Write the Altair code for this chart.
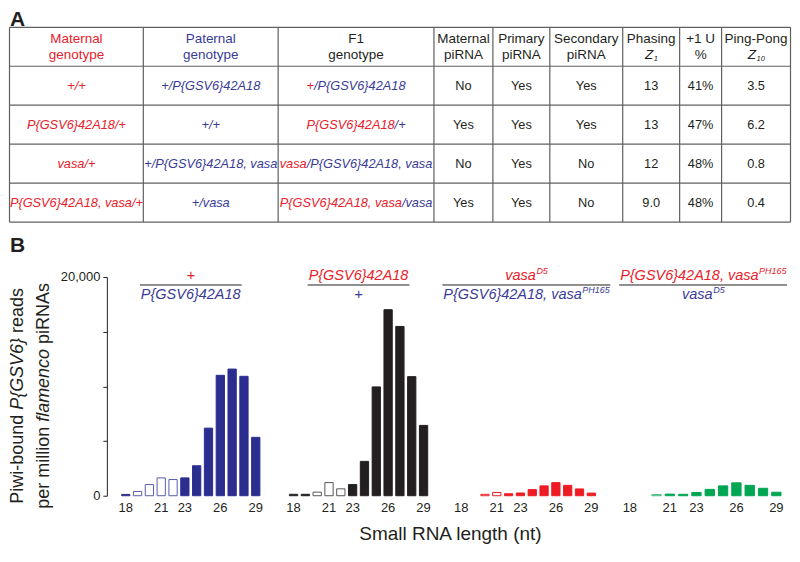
import altair as alt
import pandas as pd

# ---------------- data ----------------
lengths = list(range(18, 30))
x_tick_labels = [18, 21, 23, 26, 29]
y_ticks = [0, 5000, 10000, 15000, 20000]

reads_blue = [120, 390, 1020, 1630, 1480, 1630, 2740, 6180, 11010, 11580, 10920, 5340]
reads_black = [130, 130, 330, 1200, 630, 1020, 3140, 9950, 17010, 15480, 10890, 6430]
reads_red = [0, 0, 130, 300, 180, 250, 560, 900, 1200, 950, 620, 240]
reads_green = [0, 0, 100, 150, 130, 300, 580, 900, 1180, 950, 680, 320]

open_blue = [19, 20, 21, 22]
open_black = [20, 21, 22]
open_red = [20, 21]
open_green = [20]

table_header_top = ["Maternal", "Paternal", "F1", "Maternal", "Primary", "Secondary", "Phasing", "+1 U", "Ping-Pong"]
table_header_bottom = ["genotype", "genotype", "genotype", "piRNA", "piRNA", "piRNA", "Z", "%", "Z"]
header_subscripts = {6: "1", 8: "10"}

maternal_genotype = ["+/+", "P{GSV6}42A18/+", "vasa/+", "P{GSV6}42A18, vasa/+"]
paternal_genotype = ["+/P{GSV6}42A18", "+/+", "+/P{GSV6}42A18, vasa", "+/vasa"]
f1_maternal_part = ["+", "P{GSV6}42A18", "vasa", "P{GSV6}42A18, vasa"]
f1_paternal_part = ["/P{GSV6}42A18", "/+", "/P{GSV6}42A18, vasa", "/vasa"]
maternal_pirna = ["No", "Yes", "No", "Yes"]
primary_pirna = ["Yes", "Yes", "Yes", "Yes"]
secondary_pirna = ["Yes", "Yes", "No", "No"]
phasing_z1 = ["13", "13", "12", "9.0"]
plus1_u = ["41%", "47%", "48%", "48%"]
pingpong_z10 = ["3.5", "6.2", "0.8", "0.4"]

panel_maternal = [("+", ""), ("P{GSV6}42A18", ""), ("vasa", "D5"), ("P{GSV6}42A18, vasa", "PH165")]
panel_paternal = [("P{GSV6}42A18", ""), ("+", ""), ("P{GSV6}42A18, vasa", "PH165"), ("vasa", "D5")]

y_title_lines = [
    [("Piwi-bound ", False), ("P{GSV6}", True), (" reads", False)],
    [("per million ", False), ("flamenco", True), (" piRNAs", False)],
]
x_title = "Small RNA length (nt)"

# ---------------- style / layout ----------------
FONT = "Liberation Sans"
NARROW = "Liberation Sans Narrow, Liberation Sans"
RED = "#e8212b"
BLUE = "#393b97"
DARK = "#231f20"
GRID = "#5f6062"

# Arial / Liberation Sans advance widths (per 1000 em)
AW = {' ': 278, '+': 584, '/': 278, '{': 334, '}': 334, ',': 278, '-': 333, '(': 333, ')': 333,
      '%': 889, '.': 278}
for c in "0123456789":
    AW[c] = 556
AW.update(dict(zip("abcdefghijklmnopqrstuvwxyz",
                   [556, 556, 500, 556, 556, 278, 556, 556, 222, 222, 500, 222, 833, 556, 556, 556, 556,
                    333, 500, 278, 556, 500, 722, 500, 500, 500])))
AW.update(dict(zip("ABCDEFGHIJKLMNOPQRSTUVWXYZ",
                   [667, 667, 722, 722, 667, 611, 778, 722, 278, 500, 667, 556, 833, 722, 778, 667, 778,
                    722, 667, 611, 722, 667, 944, 667, 667, 611])))


def tw(s, size):
    return sum(AW.get(c, 556) for c in s) * size / 1000.0


# ---------- panel A: table ----------
FULL_W = 783          # whole figure width in px
LEFT_EXT = 111        # space left of the first bar panel (y-axis + title)
TOP_W = FULL_W - LEFT_EXT
TOP_H = 246
col_w = [134, 135, 156, 59, 57, 73, 57, 42, 69]
col_x = [0.5]
for w in col_w:
    col_x.append(col_x[-1] + w)
TABLE_TOP = 19
ROW_H = 39
row_lines = [TABLE_TOP + ROW_H * i for i in range(6)]
HDR_SIZE = 13.5
DATA_SIZE = 12.8
SUB_SIZE = 7.5

items = []


def add(x, y, text, color=DARK, style="normal", align="center", size=DATA_SIZE, weight="normal",
        baseline="middle"):
    items.append(dict(x=float(x), y=float(y), text=text, color=color, style=style, align=align,
                      size=float(size), weight=weight, baseline=baseline))


def center(i):
    return (col_x[i] + col_x[i + 1]) / 2


add(1, 18, "A", size=21, weight="bold", align="left", baseline="alphabetic")
add(1, 244, "B", size=21, weight="bold", align="left", baseline="alphabetic")

hdr_colors = [RED, BLUE, DARK] + [DARK] * 6
hy1 = TABLE_TOP + 11.5
hy2 = TABLE_TOP + 27.5
for i in range(9):
    cx = center(i)
    add(cx, hy1, table_header_top[i], hdr_colors[i], size=HDR_SIZE)
    if i in header_subscripts:
        sub = header_subscripts[i]
        zw = tw("Z", HDR_SIZE)
        sw = tw(sub, SUB_SIZE)
        start = cx - (zw + sw) / 2
        add(start, hy2, table_header_bottom[i], style="italic", align="left", size=HDR_SIZE)
        add(start + zw + 0.5, hy2 + 4, sub, style="italic", align="left", size=SUB_SIZE)
    else:
        add(cx, hy2, table_header_bottom[i], hdr_colors[i], size=HDR_SIZE)

value_cols = [maternal_pirna, primary_pirna, secondary_pirna, phasing_z1, plus1_u, pingpong_z10]
for r in range(4):
    cy = row_lines[r + 1] + ROW_H / 2
    add(center(0), cy, maternal_genotype[r], RED, "italic")
    add(center(1), cy, paternal_genotype[r], BLUE, "italic")
    a, b = f1_maternal_part[r], f1_paternal_part[r]
    wa, wb = tw(a, DATA_SIZE), tw(b, DATA_SIZE)
    split = center(2) - (wa + wb) / 2 + wa
    add(split, cy, a, RED, "italic", "right")
    add(split, cy, b, BLUE, "italic", "left")
    for j, col in enumerate(value_cols):
        add(center(3 + j), cy, col[r])

rules = []
for yv in row_lines:
    rules.append(dict(x=col_x[0], x2=col_x[-1], y=yv, y2=yv))
for xv in col_x:
    rules.append(dict(x=xv, x2=xv, y=row_lines[0], y2=row_lines[-1]))

SX = alt.Scale(domain=[LEFT_EXT, FULL_W], nice=False, zero=False)
SY = alt.Scale(domain=[0, TOP_H], nice=False, zero=False, reverse=True)

rule_layer = alt.Chart(pd.DataFrame(rules)).mark_rule(color=GRID, strokeWidth=1.2).encode(
    x=alt.X("x:Q", scale=SX, axis=None), x2="x2:Q",
    y=alt.Y("y:Q", scale=SY, axis=None), y2="y2:Q")

text_df = pd.DataFrame(items)
text_layers = []
for key, g in text_df.groupby(["style", "align", "size", "weight", "baseline"]):
    style, align, size, weight, baseline = key
    text_layers.append(
        alt.Chart(g.reset_index(drop=True)).mark_text(
            font=FONT, fontStyle=style, align=align, fontSize=float(size), fontWeight=weight,
            baseline=baseline).encode(
            x=alt.X("x:Q", scale=SX, axis=None),
            y=alt.Y("y:Q", scale=SY, axis=None),
            text="text:N",
            color=alt.Color("color:N", scale=None)))

top_chart = alt.layer(rule_layer, *text_layers).properties(width=TOP_W, height=TOP_H)

# ---------- panel B: bars ----------
PANEL_H = 219
Y_MAX = 20000
HS = 14.5
SS = 9


def text_at(x, y, text, color, size, style="normal", align="left", baseline="alphabetic", angle=0):
    kw = dict(font=FONT, fontSize=size, fontStyle=style, align=align, baseline=baseline, color=color)
    if angle:
        kw["angle"] = angle
    return alt.Chart(pd.DataFrame({"t": [text]})).mark_text(**kw).encode(
        x=alt.value(x), y=alt.value(y), text="t:N")


def genotype_label(width, parts, color, y):
    main, sup = parts
    wm = tw(main, HS)
    ws = tw(sup, SS) if sup else 0
    start = width / 2 - (wm + ws) / 2
    layers = [text_at(start, y, main, color, HS, "italic")]
    if sup:
        layers.append(text_at(start + wm + 0.5, y - 6, sup, color, SS, "italic"))
    return layers, wm + ws


def panel(values, open_list, color, open_stroke, width, maternal, paternal, first=False, extra=None):
    df = pd.DataFrame({"length": lengths, "reads": values})
    df = df[df["reads"] > 0].reset_index(drop=True)
    df["open"] = df["length"].isin(open_list)
    if first:
        yaxis = alt.Axis(values=y_ticks,
                         labelExpr="datum.value == 0 || datum.value == 20000 ? format(datum.value, ',') : ''",
                         tickSize=4, tickColor=DARK, domainColor=DARK, labelFont=FONT,
                         labelFontSize=13, labelColor=DARK, labelPadding=3, offset=13,
                         title=None, grid=False)
    else:
        yaxis = None
    bars = alt.Chart(df).mark_bar(strokeWidth=1).encode(
        x=alt.X("length:O", scale=alt.Scale(domain=lengths, paddingInner=0.3, paddingOuter=0.15),
                axis=alt.Axis(values=x_tick_labels, ticks=False, domain=False, labelAngle=0,
                              labelFont=NARROW, labelFontSize=13, labelColor=DARK,
                              labelPadding=6, title=None)),
        y=alt.Y("reads:Q", scale=alt.Scale(domain=[0, Y_MAX], nice=False), axis=yaxis),
        fill=alt.condition("datum.open", alt.value("white"), alt.value(color)),
        stroke=alt.condition("datum.open", alt.value(open_stroke), alt.value(color)),
    )
    top_layers, w1 = genotype_label(width, maternal, RED, 3)
    bot_layers, w2 = genotype_label(width, paternal, BLUE, 22)
    lw = max(w1, w2) + 2
    line = alt.Chart(pd.DataFrame({"a": [0]})).mark_rule(color=DARK, strokeWidth=1).encode(
        x=alt.value(width / 2 - lw / 2), x2=alt.value(width / 2 + lw / 2), y=alt.value(8))
    layers = [bars, line] + top_layers + bot_layers + (extra or [])
    return alt.layer(*layers).properties(width=width, height=PANEL_H)


# y-axis title with italic parts, as rotated text
ytitle_layers = []
Y_CENTER = 119
for li, (line_segments, xpos) in enumerate(zip(y_title_lines, [-102, -76])):
    total = sum(tw(s, 18) for s, _ in line_segments)
    offset = 0.0
    for s, ital in line_segments:
        stripped = s.strip()
        lead = len(s) - len(s.lstrip())
        start = offset + tw(" " * lead, 18)
        ypos = Y_CENTER + total / 2 - start
        ytitle_layers.append(text_at(xpos, ypos, stripped, DARK, 18,
                                     "italic" if ital else "normal", "left", "middle", angle=270))
        offset += tw(s, 18)

xtitle_layer = [text_at(-5, PANEL_H + 44, x_title, DARK, 19, "normal", "center", "alphabetic")]

p1 = panel(reads_blue, open_blue, "#2b2e8f", "#5a5dab", 142, panel_maternal[0], panel_paternal[0],
           first=True, extra=ytitle_layers)
p2 = panel(reads_black, open_black, DARK, "#555555", 142, panel_maternal[1], panel_paternal[1])
p3 = panel(reads_red, open_red, "#ed1c24", "#ed1c24", 142, panel_maternal[2], panel_paternal[2],
           extra=xtitle_layer)
p4 = panel(reads_green, open_green, "#00a651", "#3cb878", 160, panel_maternal[3], panel_paternal[3])

bottom = alt.hconcat(p1, p2, p3, p4, spacing=26, bounds="flush")

chart = alt.vconcat(top_chart, bottom, spacing=23, bounds="flush").properties(padding=0).configure_view(
    stroke=None).configure_axis(grid=False)

chart.save("out.html", embed_options={"renderer": "svg", "actions": False})
